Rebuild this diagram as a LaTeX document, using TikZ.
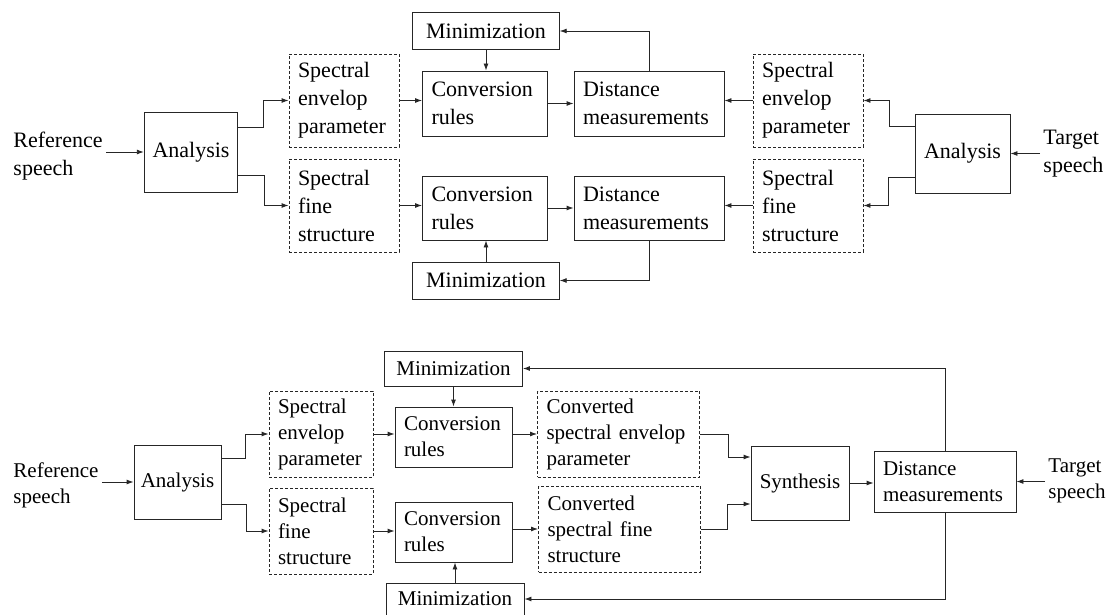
\documentclass[tikz,border=0pt]{standalone}
\usepackage{fontspec}
\setmainfont{Liberation Serif}
\usetikzlibrary{arrows.meta}

\begin{document}
\begin{tikzpicture}[x=1pt,y=-1pt,line width=0.9pt,
blk/.style n args={2}{draw=black!85,minimum width=#1pt,minimum height=#2pt,align=center,inner sep=0pt},
tblk/.style n args={2}{blk={#1}{#2},/utils/exec={\pgfmathsetmacro\blkw{#1-18}},text width=\blkw pt,align=left,inner xsep=9pt},
dblk/.style n args={2}{tblk={#1}{#2},dash pattern=on 3pt off 2pt},
lbl/.style={align=left,inner xsep=3pt,inner ysep=0pt},
arr/.style={draw=black!85,-{Latex[length=7pt,width=5pt]}}]
\useasboundingbox (0,0) rectangle (1111,615);
\begin{scope}[font=\fontsize{22}{28}\selectfont]
   \node[lbl,anchor=west](refA) at(10,156.5) {Reference\\speech};
   \node[blk={93.5}{80}](anaA) at(191,152) {Analysis};
   \node[dblk={110}{93}](envA) at(344,100.5) {Spectral\\envelop\\parameter};
   \node[dblk={110}{93}](fineA) at(344,205.5) {Spectral\\fine\\structure};
   \node[tblk={125}{65}](convA) at(485,103.5) {Conversion\\rules};
   \node[tblk={125}{64}](convB) at(485,208) {Conversion\\rules};
   \node[blk={146.5}{37}](minA) at(486,31) {Minimization};
   \node[blk={146.5}{37}](minB) at(486,280.5) {Minimization};
   \node[tblk={150}{65}](distA) at(649,103.5) {Distance\\measurements};
   \node[tblk={150}{64}](distB) at(649,208) {Distance\\measurements};
   \node[dblk={110}{93}](envB) at(808,100.5) {Spectral\\envelop\\parameter};
   \node[dblk={110}{93}](fineB) at(808,205.5) {Spectral\\fine\\structure};
   \node[blk={95}{79}](anaB) at(962.5,153.5) {Analysis};
   \node[lbl,anchor=west](tgtA) at(1040,153.5) {Target\\speech};
\end{scope}
\draw[arr] (refA.east |- anaA) -- (anaA.west);
\draw[arr] ([yshift=25pt]anaA.east) -- ++(25,0) |- (envA.west);
\draw[arr] ([yshift=-23pt]anaA.east) -- ++(26,0) |- (fineA.west);
\draw[arr] (envA.east) -- (envA.east -| convA.west);
\draw[arr] (fineA.east) -- (fineA.east -| convB.west);
\draw[arr] (minA.south) -- (minA.south |- convA.north);
\draw[arr] (minB.north) -- (minB.north |- convB.south);
\draw[arr] (convA) -- (distA);
\draw[arr] (convB) -- (distB);
\draw[arr] (distA.north) |- (minA.east);
\draw[arr] (distB.south) |- (minB.east);
\draw[arr] (envB.west) -- (envB.west -| distA.east);
\draw[arr] (fineB.west) -- (fineB.west -| distB.east);
\draw[arr] ([yshift=27.5pt]anaB.west) -- ++(-25,0) |- (envB.east);
\draw[arr] ([yshift=-23.5pt]anaB.west) -- ++(-26,0) |- (fineB.east);
\draw[arr] (tgtA.west |- anaB) -- (anaB.east);
\begin{scope}[font=\fontsize{21}{26}\selectfont]
   \node[lbl,anchor=west](refB) at(10,485) {Reference\\speech};
   \node[blk={87}{74}](anaC) at(177.5,482) {Analysis};
   \node[dblk={104}{86}](envC) at(321,434) {Spectral\\envelop\\parameter};
   \node[dblk={104}{86}](fineC) at(321,531) {Spectral\\fine\\structure};
   \node[tblk={117}{60}](convC) at(453.5,437) {Conversion\\rules};
   \node[tblk={117}{60}](convD) at(453.5,532) {Conversion\\rules};
   \node[blk={138}{35}](minC) at(453.5,368.5) {Minimization};
   \node[blk={138}{32}](minD) at(455,599) {Minimization};
   \node[dblk={162}{86}](cenv) at(618.5,434) {Converted\\spectral envelop\\parameter};
   \node[dblk={162}{86}](cfine) at(619.5,529) {Converted\\spectral fine\\structure};
   \node[blk={98}{74}](syn) at(800,483) {Synthesis};
   \node[tblk={142}{61}](distC) at(945,481.5) {Distance\\measurements};
   \node[lbl,anchor=west](tgtB) at(1045,481) {Target\\speech};
\end{scope}
\draw[arr] (refB.east |- anaC) -- (anaC.west);
\draw[arr] ([yshift=24pt]anaC.east) -- ++(24,0) |- (envC.west);
\draw[arr] ([yshift=-22pt]anaC.east) -- ++(25,0) |- (fineC.west);
\draw[arr] (envC.east) -- (envC.east -| convC.west);
\draw[arr] (fineC.east) -- (fineC.east -| convD.west);
\draw[arr] (minC.south) -- (minC.south |- convC.north);
\draw[arr] (minD.north) -- (minD.north |- convD.south);
\draw[arr] (cenv.west -| convC.east) -- (cenv.west);
\draw[arr] (cfine.west -| convD.east) -- (cfine.west);
\draw[arr] (cenv.east) -- ++(28,0) |- ([yshift=26pt]syn.west);
\draw[arr] (cfine.east) -- ++(26,0) |- ([yshift=-21pt]syn.west);
\draw[arr] (syn.east) -- (syn.east -| distC.west);
\draw[arr] (distC.north) |- (minC.east);
\draw[arr] (distC.south) |- (minD.east);
\draw[arr] (tgtB.west |- distC) -- (distC.east);
\end{tikzpicture}
\end{document}
